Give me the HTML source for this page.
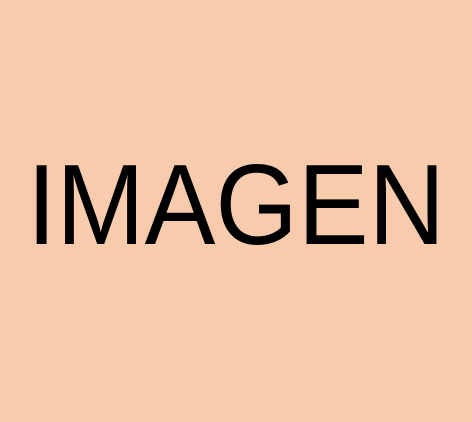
<!DOCTYPE html>
<html>
<head>
<meta charset="utf-8">
<style>
  html, body { margin: 0; padding: 0; }
  body { width: 472px; height: 422px; overflow: hidden; background: #F8CBAD; position: relative; }
  .label {
    position: absolute;
    left: 0; width: 472px;
    top: 205px;
    text-align: center;
    font-family: "Liberation Sans", Arial, sans-serif;
    font-size: 114px;
    line-height: 114px;
    color: #000;
    transform: translateY(-50%) scaleX(0.93);
    transform-origin: center center;
    margin-top: 1px;
  }
</style>
</head>
<body>
  <div class="label">IMAGEN</div>
</body>
</html>
